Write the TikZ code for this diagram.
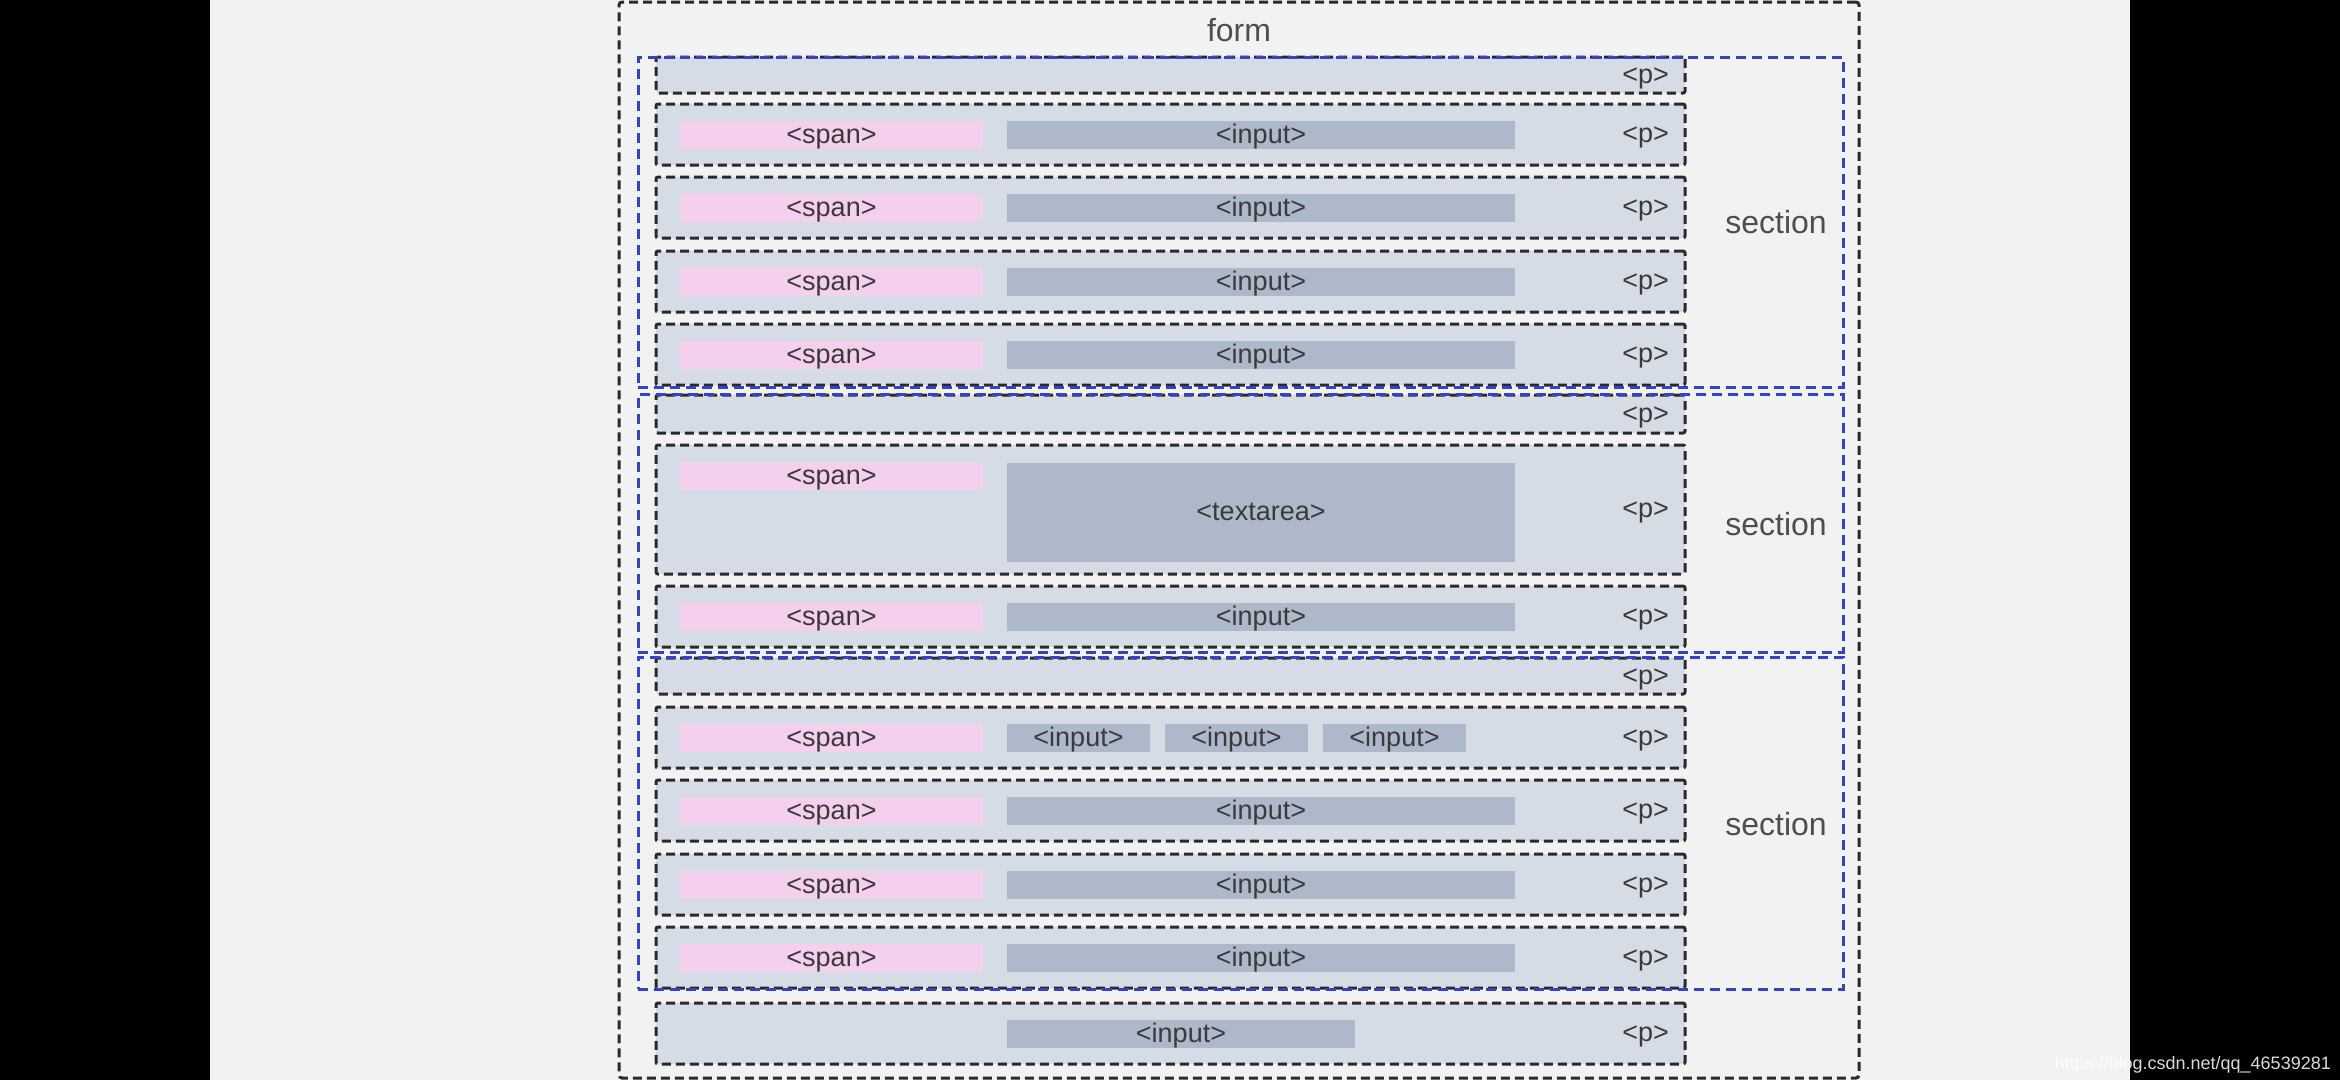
\documentclass[tikz,border=0pt]{standalone}
\usepackage{fontspec}
\setmainfont{Liberation Sans}
\definecolor{bgc}{HTML}{F2F2F2}
\definecolor{rowc}{HTML}{D6DCE5}
\definecolor{spanc}{HTML}{F4D0EE}
\definecolor{inpc}{HTML}{ADB9CA}
\definecolor{txtc}{HTML}{3A3A3A}
\definecolor{secc}{HTML}{3443C4}
\definecolor{dashc}{HTML}{2A2A2A}
\newcommand{\tagfont}{\fontsize{27}{27}\selectfont}
\newcommand{\bigfont}{\fontsize{32}{32}\selectfont}
\tikzset{
  x=1pt, y=-1pt,
  prow/.style={draw=dashc, dash pattern=on 9pt off 5pt, line width=3pt, fill=rowc,
    rounded corners=2pt, inner sep=0pt, outer sep=0pt, anchor=north west, minimum width=1029pt},
  tagtext/.style={text=txtc, font=\tagfont, text height=22pt, text depth=6pt},
  spanbox/.style={tagtext, fill=spanc, inner sep=0pt, outer sep=0pt, anchor=north west,
    minimum width=303pt, minimum height=28pt},
  inbox/.style={tagtext, fill=inpc, inner sep=0pt, outer sep=0pt, anchor=north west,
    minimum height=28pt},
  ptag/.style={tagtext, anchor=east, inner sep=0pt},
  secbox/.style={draw=secc, dash pattern=on 10pt off 6pt, line width=3pt, inner sep=0pt,
    outer sep=0pt, anchor=north west, minimum width=1205pt},
  seclabel/.style={text=txtc!90, font=\bigfont, inner sep=0pt},
  formbox/.style={draw=dashc, dash pattern=on 9pt off 5pt, line width=3pt, rounded corners=3pt,
    inner sep=0pt, outer sep=0pt, anchor=north west, minimum width=1240pt, minimum height=1076pt}
}
% name, top
\newcommand{\stdrow}[2]{%
  \node[prow, minimum height=61pt] (r#1) at (656,#2) {};
  \node[spanbox] (s#1) at (680,#2+17) {<span>};
  \node[inbox, minimum width=508pt] (i#1) at (1007,#2+17) {<input>};
  \node[ptag] (p#1) at ([xshift=-16pt]r#1.east) {<p>};
}
% name, top, height
\newcommand{\emptyrow}[3]{%
  \node[prow, minimum height=#3pt] (r#1) at (656,#2) {};
  \node[ptag] (p#1) at ([xshift=-16pt]r#1.east) {<p>};
}
\begin{document}
\begin{tikzpicture}
\useasboundingbox (0,0) rectangle (2340,1080);
\fill[black] (0,0) rectangle (2340,1080);
\fill[bgc] (210,0) rectangle (2130,1080);

\node[formbox] (form) at (619,2) {};
\node[seclabel] (formlbl) at (1239,30) {form};

% section 1
\emptyrow{1}{57}{36}
\stdrow{2}{104}
\stdrow{3}{177}
\stdrow{4}{251}
\stdrow{5}{324}
% section 2
\emptyrow{6}{395}{38}
\node[prow, minimum height=129pt] (r7) at (656,445) {};
\node[spanbox] (s7) at (680,462) {<span>};
\node[inbox, minimum width=508pt, minimum height=99pt] (t7) at (1007,463) {<textarea>};
\node[ptag] (p7) at ([xshift=-16pt]r7.east) {<p>};
\stdrow{8}{586}
% section 3
\emptyrow{9}{658}{36}
\node[prow, minimum height=61pt] (r10) at (656,707) {};
\node[spanbox] (s10) at (680,724) {<span>};
\node[inbox, minimum width=143pt] (ia10) at (1007,724) {<input>};
\node[inbox, minimum width=143pt] (ib10) at (1165,724) {<input>};
\node[inbox, minimum width=143pt] (ic10) at (1323,724) {<input>};
\node[ptag] (p10) at ([xshift=-16pt]r10.east) {<p>};
\stdrow{11}{780}
\stdrow{12}{854}
\stdrow{13}{927}
% last row
\node[prow, minimum height=61pt] (r14) at (656,1003) {};
\node[inbox, minimum width=348pt] (i14) at (1007,1020) {<input>};
\node[ptag] (p14) at ([xshift=-16pt]r14.east) {<p>};

% sections
\node[secbox, minimum height=330pt] (sec1) at (638,57) {};
\node[secbox, minimum height=258pt] (sec2) at (638,394) {};
\node[secbox, minimum height=332pt] (sec3) at (638,657) {};
\node[seclabel] (sl1) at (1776,222) {section};
\node[seclabel] (sl2) at (1776,524) {section};
\node[seclabel] (sl3) at (1776,824) {section};

\node[anchor=base east, text=white, opacity=0.85, font=\fontsize{18}{18}\selectfont, inner sep=0pt] (wm) at (2331,1069) {https://blog.csdn.net/qq\_46539281};
\end{tikzpicture}
\end{document}
